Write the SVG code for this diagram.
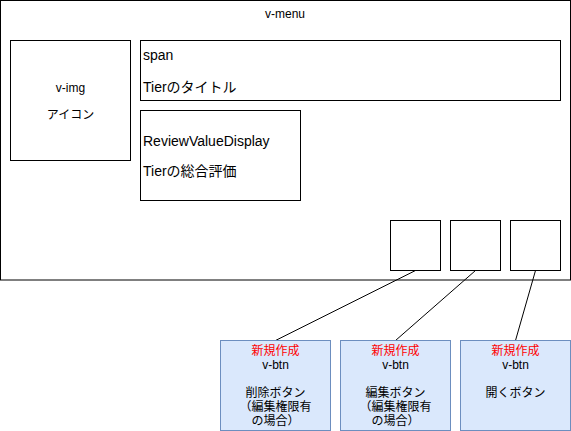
<svg xmlns="http://www.w3.org/2000/svg" width="571" height="431" viewBox="0 0 571 431">
<style>
text{font-family:"Liberation Sans","Noto Sans CJK JP",sans-serif;font-size:12px;fill:#000}
.c{text-anchor:middle}
.big{font-size:14px}
.r{fill:#ff0000}
.box{fill:#fff;stroke:#000;stroke-width:1}
.blue{fill:#dae8fc;stroke:#6c8ebf;stroke-width:1}
.ln{stroke:#000;stroke-width:1;fill:none}
</style>
<rect width="571" height="431" fill="#fff"/>
<g id="v-menu">
<rect class="box" x="0.5" y="0.5" width="570" height="279.5"/>
<text class="c" x="285" y="18">v-menu</text>
</g>
<g id="v-img">
<rect class="box" x="10.5" y="40.5" width="120" height="120"/>
<text class="c" x="70.5" y="92">v-img</text>
<text class="c" x="70.5" y="119">アイコン</text>
</g>
<g id="span">
<rect class="box" x="140.5" y="40.5" width="420" height="60"/>
<text class="big" x="143" y="60">span</text>
<text class="big" x="143" y="92">Tierのタイトル</text>
</g>
<g id="review">
<rect class="box" x="140.5" y="110.5" width="160" height="90"/>
<text class="big" x="143" y="146">ReviewValueDisplay</text>
<text class="big" x="143" y="176">Tierの総合評価</text>
</g>
<g id="slot1"><rect class="box" x="390.5" y="220.5" width="50" height="50"/></g>
<g id="slot2"><rect class="box" x="450.5" y="220.5" width="50" height="50"/></g>
<g id="slot3"><rect class="box" x="510.5" y="220.5" width="50" height="50"/></g>
<g id="connectors">
<line class="ln" x1="415.5" y1="270.5" x2="275.5" y2="340.5"/>
<line class="ln" x1="475.5" y1="270.5" x2="395.5" y2="340.5"/>
<line class="ln" x1="535.5" y1="270.5" x2="515.5" y2="340.5"/>
</g>
<g id="btn-delete">
<rect class="blue" x="220.5" y="340.5" width="110" height="90"/>
<text class="c r" x="275.5" y="355">新規作成</text>
<text class="c" x="275.5" y="369">v-btn</text>
<text class="c" x="275.5" y="397">削除ボタン</text>
<text class="c" x="275.5" y="411">（編集権限有</text>
<text class="c" x="275.5" y="425">の場合）</text>
</g>
<g id="btn-edit">
<rect class="blue" x="340.5" y="340.5" width="110" height="90"/>
<text class="c r" x="395.5" y="355">新規作成</text>
<text class="c" x="395.5" y="369">v-btn</text>
<text class="c" x="395.5" y="397">編集ボタン</text>
<text class="c" x="395.5" y="411">（編集権限有</text>
<text class="c" x="395.5" y="425">の場合）</text>
</g>
<g id="btn-open">
<rect class="blue" x="460.5" y="340.5" width="110" height="90"/>
<text class="c r" x="515.5" y="355">新規作成</text>
<text class="c" x="515.5" y="369">v-btn</text>
<text class="c" x="515.5" y="397">開くボタン</text>
</g>
</svg>
